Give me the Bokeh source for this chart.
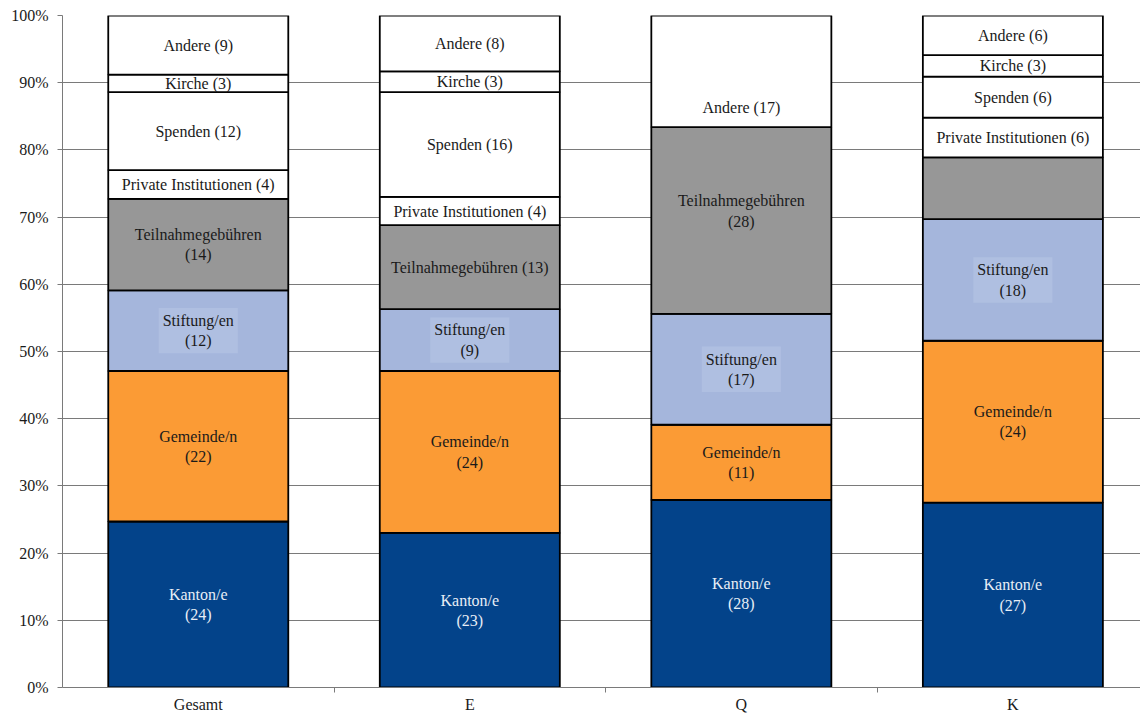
from bokeh.plotting import figure
from bokeh.models import Range1d, FixedTicker, ColumnDataSource
from bokeh.core.properties import value
from bokeh.embed import file_html
from bokeh.resources import INLINE

# ---------------- data ----------------
categories = ["Gesamt", "E", "Q", "K"]
series = ["Kanton/e", "Gemeinde/n", "Stiftung/en", "Teilnahmegebühren",
          "Private Institutionen", "Spenden", "Kirche", "Andere"]

# shares in percent
kanton = [24.7, 23.0, 27.9, 27.5]
gemeinde = [22.4, 24.1, 11.2, 24.1]
stiftung = [12.0, 9.2, 16.5, 18.1]
teilnahme = [13.6, 12.5, 27.8, 9.2]
private = [4.3, 4.2, 0.0, 5.9]
spenden = [11.6, 15.6, 0.0, 6.1]
kirche = [2.6, 3.1, 0.0, 3.2]
andere = [8.8, 8.3, 16.6, 5.9]

# segment labels
kanton_labels = ["Kanton/e\n(24)", "Kanton/e\n(23)", "Kanton/e\n(28)", "Kanton/e\n(27)"]
gemeinde_labels = ["Gemeinde/n\n(22)", "Gemeinde/n\n(24)", "Gemeinde/n\n(11)", "Gemeinde/n\n(24)"]
stiftung_labels = ["Stiftung/en\n(12)", "Stiftung/en\n(9)", "Stiftung/en\n(17)", "Stiftung/en\n(18)"]
teilnahme_labels = ["Teilnahmegebühren\n(14)", "Teilnahmegebühren (13)", "Teilnahmegebühren\n(28)", ""]
private_labels = ["Private Institutionen (4)", "Private Institutionen (4)", "", "Private Institutionen (6)"]
spenden_labels = ["Spenden (12)", "Spenden (16)", "", "Spenden (6)"]
kirche_labels = ["Kirche (3)", "Kirche (3)", "", "Kirche (3)"]
andere_labels = ["Andere (9)", "Andere (8)", "Andere (17)", "Andere (6)"]

y_ticks = [0, 10, 20, 30, 40, 50, 60, 70, 80, 90, 100]

# ---------------- styling ----------------
values = [kanton, gemeinde, stiftung, teilnahme, private, spenden, kirche, andere]
labels = [kanton_labels, gemeinde_labels, stiftung_labels, teilnahme_labels,
          private_labels, spenden_labels, kirche_labels, andere_labels]
colors = ["#03438A", "#FB9B35", "#A5B6DC", "#979797",
          "#FFFFFF", "#FFFFFF", "#FFFFFF", "#FFFFFF"]
text_colors = ["#E8EEF6", "#1a1a1a", "#1a1a1a", "#1a1a1a",
               "#1a1a1a", "#1a1a1a", "#1a1a1a", "#1a1a1a"]
# label offsets (percent units) where the original label is not centred
label_shift = {(2, 7): -5.4, (2, 3): 1.4}

FONT = "Liberation Serif"
bar_width = 0.663

p = figure(width=1140, height=715, output_backend="svg", toolbar_location=None,
           x_range=Range1d(0, 3.97), y_range=Range1d(0, 100),
           min_border_left=62, min_border_right=0, min_border_top=15,
           min_border_bottom=27)
p.outline_line_color = None
p.xgrid.grid_line_color = None
p.ygrid.grid_line_color = "#7a7a7a"
p.ygrid.grid_line_width = 1
p.ygrid.ticker = FixedTicker(ticks=y_ticks)

xs = [i + 0.5 for i in range(len(categories))]
bottoms = [0.0] * len(categories)
plain_src = dict(x=[], y=[], text=[], color=[])
box_src = dict(x=[], y=[], text=[], color=[])
for si, (vals, labs) in enumerate(zip(values, labels)):
    tops = [b + v for b, v in zip(bottoms, vals)]
    p.vbar(x=xs, bottom=bottoms, top=tops, width=bar_width,
           fill_color=colors[si], line_color="black", line_width=1.8)
    for ci in range(len(categories)):
        if labs[ci]:
            yc = (bottoms[ci] + tops[ci]) / 2 + label_shift.get((ci, si), 0.0)
            target = box_src if si == 2 else plain_src
            target["x"].append(xs[ci])
            target["y"].append(yc)
            target["text"].append(labs[ci])
            target["color"].append(text_colors[si])
    bottoms = tops

p.text(x="x", y="y", text="text", source=ColumnDataSource(plain_src),
       text_color="color", text_font=value(FONT), text_font_size="16px",
       text_align="center", text_baseline="middle", text_line_height=1.2)
p.text(x="x", y="y", text="text", source=ColumnDataSource(box_src),
       text_color="color", text_font=value(FONT), text_font_size="16px",
       text_align="center", text_baseline="middle", text_line_height=1.2,
       background_fill_color="#AFBFE1", padding=4)

# y axis
p.yaxis.ticker = FixedTicker(ticks=y_ticks)
p.yaxis.major_label_overrides = {t: f"{t}%" for t in y_ticks}
p.yaxis.axis_line_color = "#7a7a7a"
p.yaxis.major_tick_line_color = "#7a7a7a"
p.yaxis.major_tick_out = 5
p.yaxis.major_tick_in = 0
p.yaxis.minor_tick_line_color = None
p.yaxis.major_label_text_font = FONT
p.yaxis.major_label_text_font_size = "16px"
p.yaxis.major_label_text_color = "#1a1a1a"
p.yaxis.major_label_standoff = 9

# x axis
p.xaxis.ticker = FixedTicker(ticks=xs, minor_ticks=[1, 2, 3])
p.xaxis.major_label_overrides = {x: c for x, c in zip(xs, categories)}
p.xaxis.axis_line_color = "#7a7a7a"
p.xaxis.major_tick_line_color = None
p.xaxis.major_tick_out = 0
p.xaxis.major_tick_in = 0
p.xaxis.minor_tick_line_color = "#7a7a7a"
p.xaxis.minor_tick_out = 5
p.xaxis.minor_tick_in = 0
p.xaxis.major_label_text_font = FONT
p.xaxis.major_label_text_font_size = "16px"
p.xaxis.major_label_text_color = "#1a1a1a"
p.xaxis.major_label_standoff = 3

open("out.html", "w").write(file_html(p, INLINE))
